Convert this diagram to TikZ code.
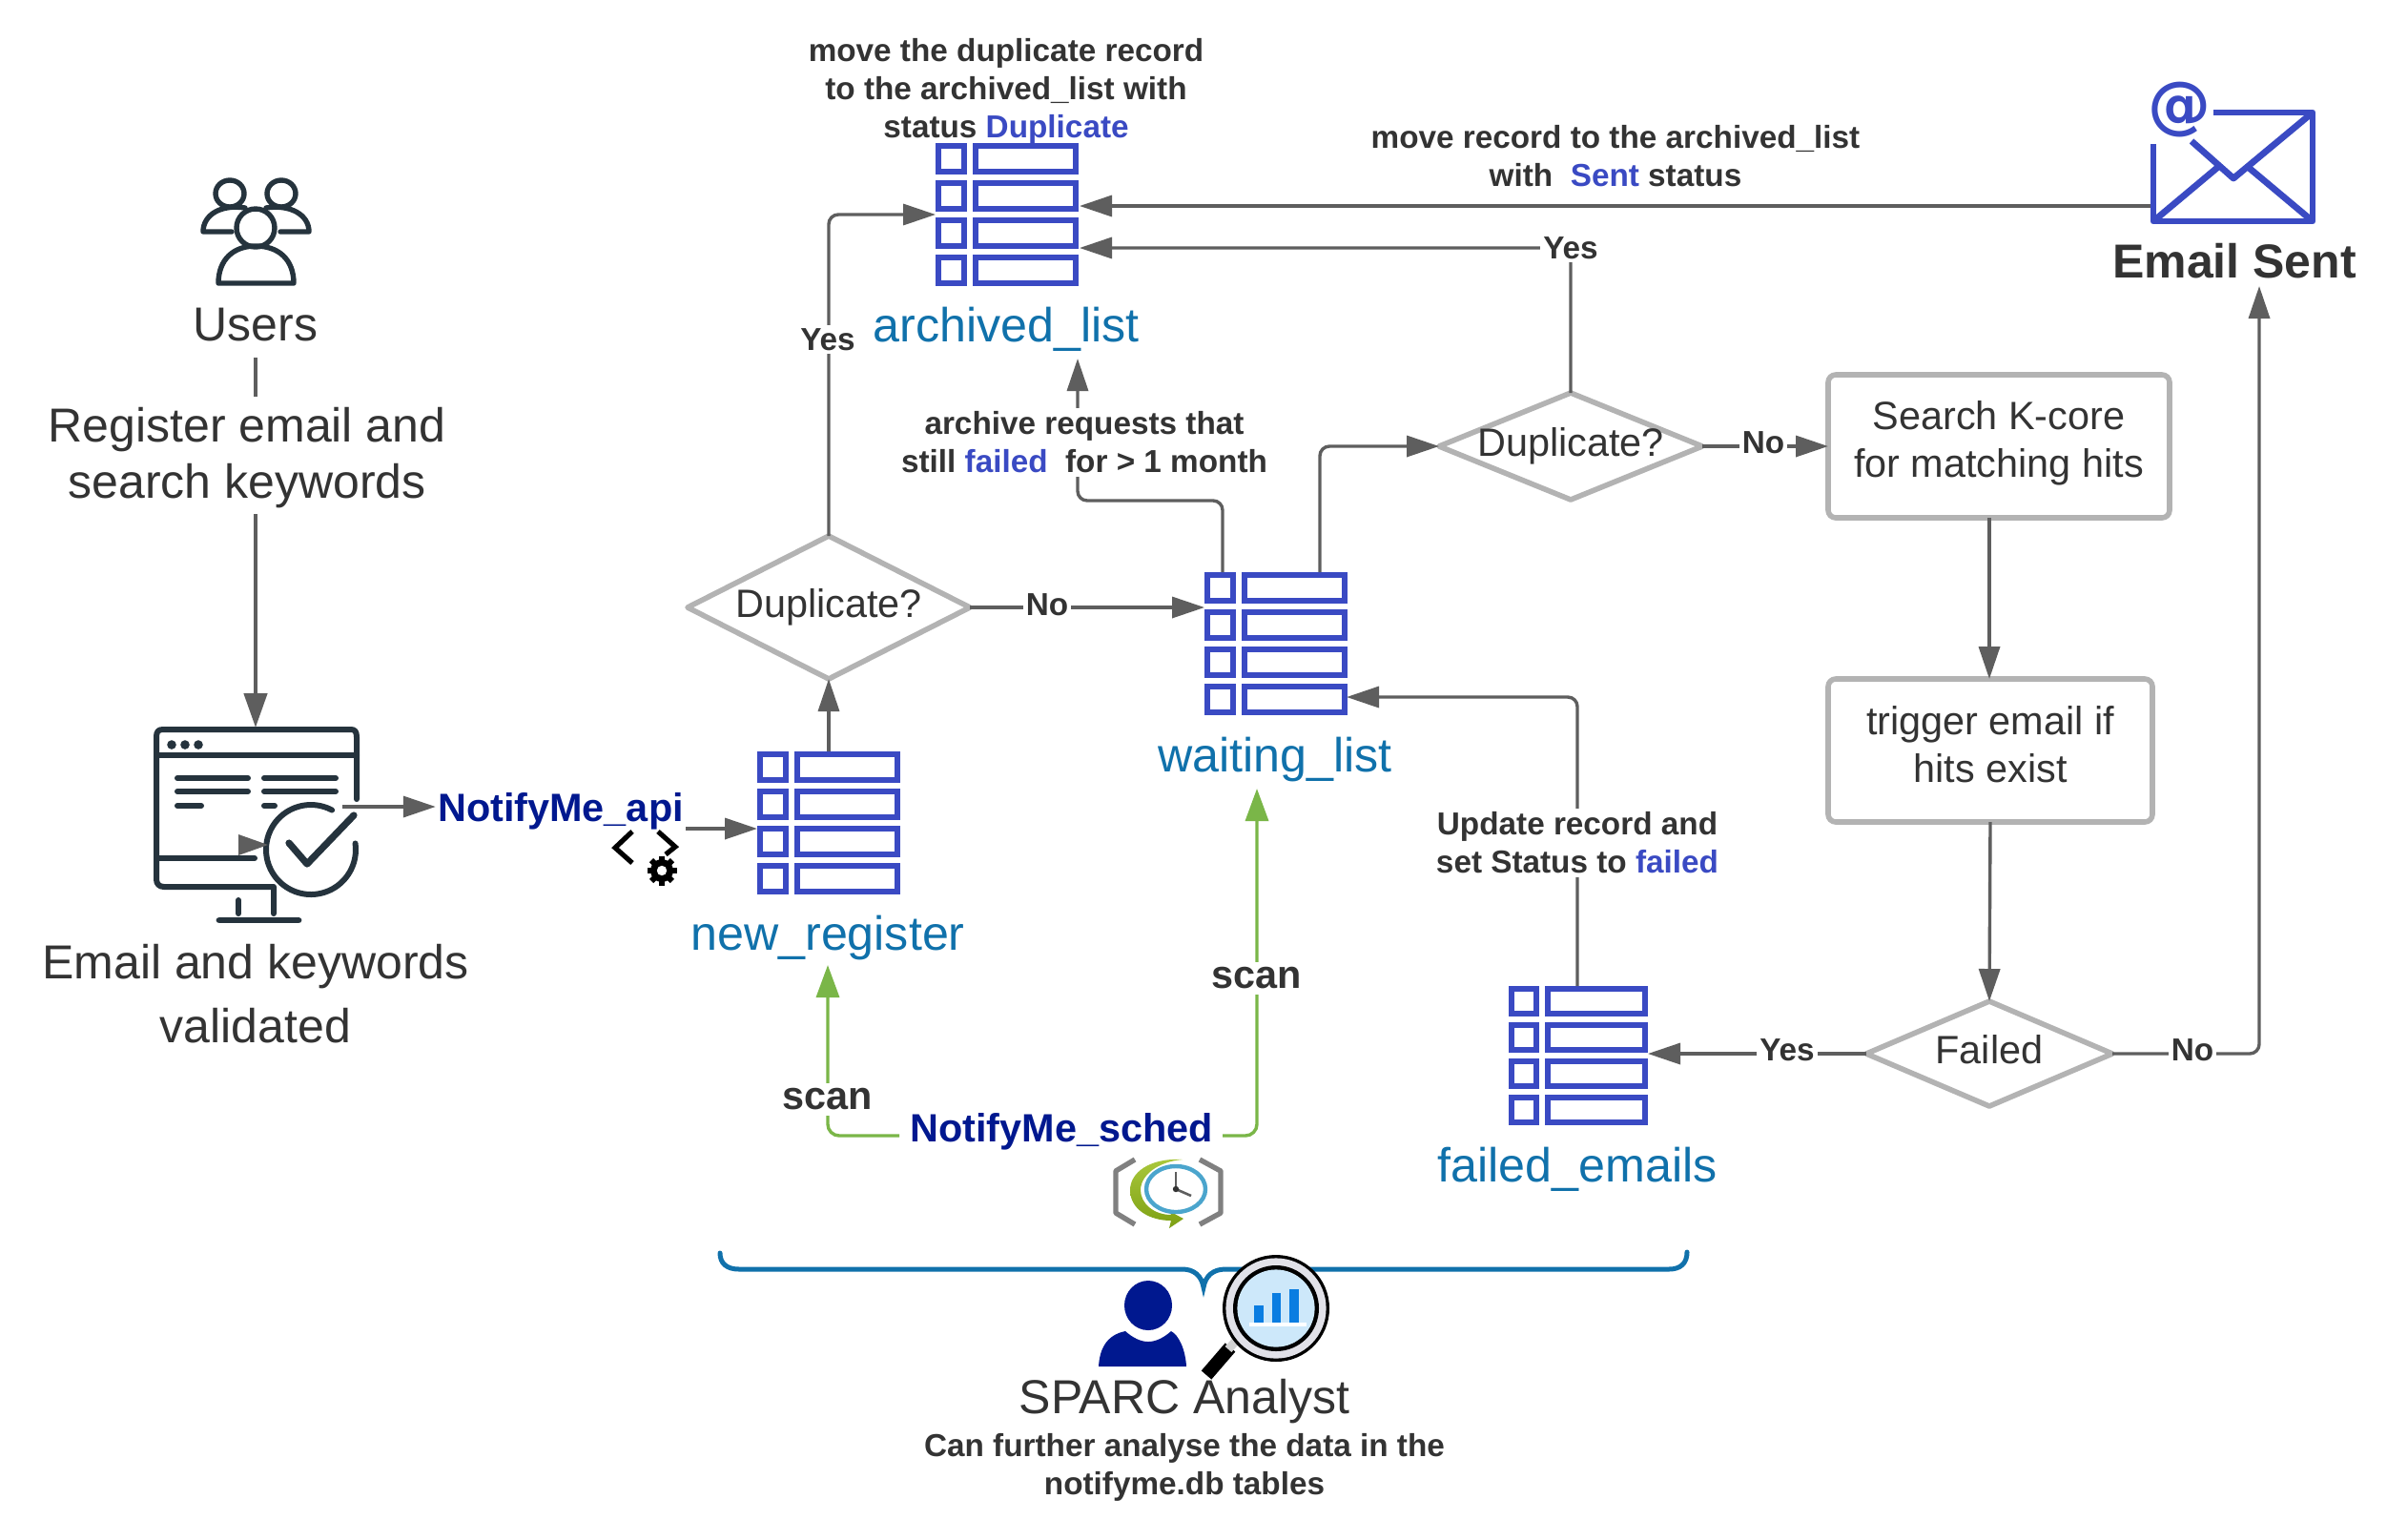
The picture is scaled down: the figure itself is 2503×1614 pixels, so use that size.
\documentclass[tikz,border=0pt]{standalone}
\usepackage{fontspec}
\setmainfont{Liberation Sans}
\newfontfamily\atfont{DejaVu Sans}
\usetikzlibrary{arrows.meta,shapes.geometric,calc}
\definecolor{blu}{HTML}{3A4AC3}
\definecolor{teal}{HTML}{1071AB}
\definecolor{ink}{HTML}{333333}
\definecolor{arrgray}{HTML}{5E5E5E}
\definecolor{grn}{HTML}{7AB648}
\definecolor{graybd}{HTML}{B3B3B3}
\definecolor{navy}{HTML}{00188F}
\definecolor{iconink}{HTML}{25333D}
\tikzset{
  x=0.5pt,y=-0.5pt,
  arr/.style={draw=arrgray,line width=1.7pt,-{Triangle[length=17pt,width=11pt]},fill=none,rounded corners=5pt},
  garr/.style={draw=grn,line width=1.7pt,-{Triangle[length=17pt,width=12pt]},rounded corners=6pt},
  big/.style={font=\fontsize{25}{29.5}\selectfont,text=ink,align=center,inner sep=0pt},
  tname/.style={font=\fontsize{25.1}{31}\selectfont,text=teal,inner sep=0pt},
  note/.style={font=\bfseries\fontsize{16.65}{20}\selectfont,text=ink,align=center,inner sep=2pt,fill=white},
  yn/.style={font=\bfseries\fontsize{16.65}{20}\selectfont,text=ink,inner sep=1.5pt,fill=white},
  svc/.style={font=\bfseries\fontsize{20.7}{25}\selectfont,text=navy,inner sep=1pt},
  scanl/.style={font=\bfseries\fontsize{20.7}{25}\selectfont,text=ink,inner sep=3pt,fill=white},
  dia/.style={shape=diamond,draw=graybd,line width=2.8pt,line join=round,inner sep=0pt,outer sep=0pt,fill=white,text=ink,font=\fontsize{20.7}{25}\selectfont,text height=10.5pt,text depth=0.5pt},
  boxn/.style={draw=graybd,line width=2.8pt,rounded corners=4pt,text=ink,align=center,inner sep=0pt,outer sep=0pt,font=\fontsize{20.7}{25}\selectfont,anchor=north west},
  cell/.style={draw=blu,line width=3pt},
  ic/.style={draw=iconink,line width=2.7pt,line cap=round,line join=round},
  em/.style={draw=blu,line width=3.4pt,line join=round},
}
\newcommand{\tblicon}[5]{%
  \begin{scope}[shift={(#2,#3)},scale=#5]
    \node[minimum width=#4pt,minimum height=#4pt,inner sep=0pt,outer sep=0pt,anchor=north west] (#1) at (0,0) {};
    \foreach \r in {3,42,81,120}{
      \draw[cell] (3,\r) rectangle (30,\r+27);
      \draw[cell] (42,\r) rectangle (147,\r+27);
    }
  \end{scope}}
\begin{document}
\begin{tikzpicture}
\useasboundingbox (0,0) rectangle (2503,1614);
\fill[white] (0,0) rectangle (2503,1614);

% ----- tables
\tblicon{arch}{981}{150}{75}{1}
\tblicon{newreg}{794}{788}{75}{1}
\tblicon{wait}{1263}{600}{75}{1}
\tblicon{failt}{1582}{1034}{73}{.975}

% ----- nodes
\node[big] (users) at (268,341) {Users};
\node[minimum width=106pt,minimum height=102pt,inner sep=0pt,outer sep=0pt,anchor=north west] (monitor) at (163,763) {};
\node[svc] (api) at (588,851) {NotifyMe\_api};
\node[svc] (sched) at (1113,1187) {NotifyMe\_sched};
\node[dia,minimum width=148pt,minimum height=75pt,aspect=1.97] (dup1) at (869,637) {Duplicate?};
\node[dia,minimum width=138pt,minimum height=56pt,aspect=2.46] (dup2) at (1647,468) {Duplicate?};
\node[dia,minimum width=129pt,minimum height=55pt,aspect=2.35] (failedd) at (2086,1105) {Failed};
\node[boxn,minimum width=179pt,minimum height=75pt] (search) at (1917,393) {Search K-core\\[0pt]for matching hits\rule[-7.6pt]{0pt}{0pt}};
\node[boxn,minimum width=170pt,minimum height=75pt] (trig) at (1917,712) {trigger email if\\[0pt]hits exist\rule[-6.4pt]{0pt}{0pt}};
\node[minimum width=85.5pt,minimum height=59.5pt,inner sep=0pt,outer sep=0pt,anchor=north west] (env) at (2256,115) {};

% ----- connector junction coordinates
\coordinate (uend) at (268,375);
\coordinate (e1) at (1132,216);
\coordinate (e2) at (2256,216);
\coordinate (d2up) at (1647,260);
\coordinate (d2upa) at (1132,260);
\coordinate (mon1) at (359,846);
\coordinate (api1) at (719,869);
\coordinate (api2) at (794,869);
\coordinate (w1) at (1282,600);
\coordinate (w2) at (1384,600);
\coordinate (ftip) at (1412,731);
\coordinate (fup) at (1654,1034);
\coordinate (s2a) at (2086,543);
\coordinate (s2b) at (2086,712);
\coordinate (etip) at (2369,300);
\coordinate (ftbl) at (1728,1105);
\coordinate (gl) at (943,1191);
\coordinate (gr) at (1282,1191);
\coordinate (gl2) at (868,1012);
\coordinate (gr2) at (1318,827);
\coordinate (arctip) at (1130,376);

% ----- connectors
\draw[arr,line width=2.3pt,-{Triangle[length=18pt,width=12pt]}] (uend) -- (monitor.north -| uend);
\draw[arr] (mon1) -- (api.west |- mon1);
\draw[arr] (api1) -- (api2);
\draw[arr] (newreg.north) -- (dup1.south);
\draw[arr] (dup1.north) -- (869,225) -- (arch.west);
\draw[arr] (dup1.east) -- (wait.west |- dup1.east);
\draw[arr] (w2) -- (1384,468) -- (dup2.west);
\draw[arr] (w1) -- (1282,525) -- (1130,525) -- (arctip);
\draw[arr] (dup2.north) -- (d2up) -- (d2upa);
\draw[arr] (e2) -- (e1);
\draw[arr] (dup2.east) -- (search.west |- dup2.east);
\draw[arr] (s2a) -- (s2b);
\draw[arr] (trig.south) -- (failedd.north);
\draw[arr] (failedd.west) -- (ftbl);
\draw[arr] (failedd.east) -- (2369,1105) -- (etip);
\draw[arr] (fup) -- (1654,731) -- (ftip);
\draw[garr] (gl) -- (868,1191) -- (gl2);
\draw[garr] (gr) -- (1318,1191) -- (gr2);

% ----- labels on lines
\node[big,fill=white,inner sep=3pt] (reg) at (259,477.5) {\rule{0pt}{20.7pt}Register email and\\search keywords};
\node[big] (valid) at (268,1042) {Email and keywords\\[4pt]validated};
\node[tname] (l1) at (868,983) {new\_register};
\node[tname] (l2) at (1055,345) {archived\_list};
\node[tname] (l3) at (1337,796) {waiting\_list};
\node[tname] (l4) at (1654,1226) {failed\_emails};
\node[note,fill=none] (n1) at (1055,96) {move the duplicate record\\to the archived\_list with\\status \textcolor{blu}{Duplicate}};
\node[note] (n2) at (1694,164) {move record to the archived\_list\\with\ \ \textcolor{blu}{Sent} status};
\node[note] (n3) at (1137,464) {archive requests that\\still \textcolor{blu}{failed}\ \ for > 1 month};
\node[note] (n4) at (1654,884) {Update record and\\set Status to \textcolor{blu}{failed}};
\node[yn] (y1) at (868,356) {Yes};
\node[yn] (n11) at (1098,634) {No};
\node[yn] (y2) at (1647,260) {Yes};
\node[yn] (n12) at (1849,464) {No};
\node[yn] (y3) at (1874,1101) {Yes};
\node[yn] (n13) at (2299,1101) {No};
\node[scanl] (s1) at (868,1153) {scan};
\node[scanl] (s2) at (1318,1026) {scan};
\node[font=\bfseries\fontsize{25}{30}\selectfont,text=ink,inner sep=0pt] (sent) at (2343,274) {Email Sent};

% ----- users icon
\begin{scope}
\draw[ic] (241,203) ellipse [x radius=7.5pt,y radius=7pt];
\draw[ic] (295,203) ellipse [x radius=7.5pt,y radius=7pt];
\draw[ic] (268,239) ellipse [x radius=10pt,y radius=10pt];
\draw[ic] (257,218) .. controls (232,214) and (213,225) .. (213,243) -- (243,243);
\draw[ic] (279,218) .. controls (304,214) and (324,225) .. (324,243) -- (294,243);
\draw[ic] (229,297) .. controls (229,272) and (245,258) .. (268,258) .. controls (292,258) and (308,272) .. (308,297) -- cycle;
\end{scope}

% ----- monitor icon
\begin{scope}
\draw[ic,line width=3pt] (374,838) -- (374,773) .. controls (374,767) and (372,765) .. (368,765) -- (171,765) .. controls (166,765) and (164,767) .. (164,773) -- (164,922) .. controls (164,927) and (167,930) .. (172,930) -- (287,930) -- (287,958);
\draw[ic,line width=3pt] (164,792) -- (374,792);
\draw[ic,line width=3pt] (164,900) -- (267,900);
\draw[ic,line width=3pt] (250,944) -- (250,958);
\draw[ic,line width=3.4pt] (230,965) -- (313,965);
\foreach \c in {180,194,208}{\fill[iconink] (\c,781) circle (2.4pt);}
\draw[ic,line width=3pt] (186,816) -- (260,816); \draw[ic,line width=3pt] (186,830) -- (260,830); \draw[ic,line width=3pt] (186,845) -- (211,845);
\draw[ic,line width=3pt] (277,816) -- (352,816); \draw[ic,line width=3pt] (277,830) -- (352,830); \draw[ic,line width=3pt] (277,845) -- (288,845);
\draw[ic,line width=3pt,smooth] plot[domain=-8:298,samples=50] ({326+47*cos(\x)},{891+47*sin(\x)});
\draw[ic,line width=3.6pt] (303,884) -- (322,906) -- (371,855);
\fill[arrgray] (250,875) -- (281,886) -- (250,897) -- cycle;
\end{scope}

% ----- api icon
\draw[black,line width=2.6pt] (663,872) -- (645,889) -- (663,905);
\draw[black,line width=2.6pt] (690,872) -- (708,888) -- (698,896);
\foreach \a in {0,45,...,315}{\draw[black,line width=3pt] ({694+8*cos(\a)},{913+8*sin(\a)}) -- ({694+15.5*cos(\a)},{913+15.5*sin(\a)});}
\fill[black] (694,913) circle (6pt);
\fill[white] (694,913) circle (2.6pt);

% ----- clock icon
\draw[draw=gray,line width=2.7pt,line join=round] (1190,1216) -- (1170,1228) -- (1170,1272) -- (1190,1284);
\draw[draw=gray,line width=2.7pt,line join=round] (1258,1216) -- (1280,1228) -- (1280,1272) -- (1258,1284);
\shade[top color={rgb,255:red,170;green,200;blue,60},bottom color={rgb,255:red,125;green,160;blue,20}] (1240,1216) .. controls (1205,1214) and (1185,1230) .. (1185,1248) .. controls (1185,1268) and (1205,1280) .. (1228,1280) -- (1226,1288) -- (1241,1278) -- (1226,1270) -- (1228,1274) .. controls (1210,1274) and (1196,1262) .. (1196,1248) .. controls (1196,1232) and (1215,1218) .. (1240,1216) -- cycle;
\draw[draw={rgb,255:red,75;green,165;blue,205},line width=2.2pt,fill=white] (1233,1247) ellipse [x radius=15.5pt,y radius=12pt];
\draw[draw=arrgray,line width=1.3pt] (1233,1247) -- (1233,1229);
\draw[draw=arrgray,line width=1.3pt] (1233,1247) -- (1249,1254);
\fill[black!80] (1233,1247) circle (1.6pt);

% ----- brace
\draw[draw=teal,line width=2.5pt,line cap=round] (755,1314) .. controls (755,1325) and (762,1331) .. (775,1331) -- (1240,1331) .. controls (1252,1331) and (1260,1338) .. (1262,1350) .. controls (1264,1338) and (1272,1331) .. (1285,1331) -- (1750,1331) .. controls (1762,1331) and (1769,1325) .. (1769,1313);

% ----- analyst person
\fill[navy] (1204,1369) ellipse [x radius=12.5pt,y radius=13pt];
\fill[navy] (1152,1433) .. controls (1153,1415) and (1160,1400) .. (1180,1396) .. controls (1188,1403) and (1196,1407) .. (1204,1407) .. controls (1212,1407) and (1220,1403) .. (1228,1396) .. controls (1236,1400) and (1243,1415) .. (1244,1433) -- cycle;

% ----- magnifier
\draw[draw=black,line width=7pt] (1265,1442) -- (1290,1413);
\draw[draw=gray!35,line width=4.5pt] (1288,1415) -- (1304,1397);
\fill[black] (1338,1372) circle (28pt);
\fill[fill={rgb,255:red,225;green,225;blue,232}] (1338,1372) circle (26.3pt);
\fill[black] (1338,1372) circle (22.5pt);
\fill[fill={rgb,255:red,205;green,232;blue,250}] (1338,1372) circle (20.3pt);
\fill[fill={rgb,255:red,10;green,125;blue,225}] (1315,1369) rectangle (1325,1388);
\fill[fill={rgb,255:red,10;green,125;blue,225}] (1334,1356) rectangle (1343,1388);
\fill[fill={rgb,255:red,10;green,125;blue,225}] (1352,1352) rectangle (1362,1388);
\fill[white] (1310,1387) rectangle (1370,1391);

\node[big] (sparc) at (1242,1470) {SPARC Analyst};
\node[note,fill=none] (n5) at (1242,1539) {Can further analyse the data in the\\notifyme.db tables};

% ----- envelope icon
\draw[em] (2321,118) -- (2425,118) -- (2425,232) -- (2258,232) -- (2258,151);
\draw[em] (2298,148) -- (2342,187) -- (2425,118);
\draw[em] (2258,232) -- (2326,175);
\draw[em] (2357,175) -- (2425,232);
\node[text=blu,font=\atfont\bfseries\fontsize{33}{35}\selectfont,inner sep=0pt] (at) at (2285,115) {@};
\end{tikzpicture}
\end{document}
